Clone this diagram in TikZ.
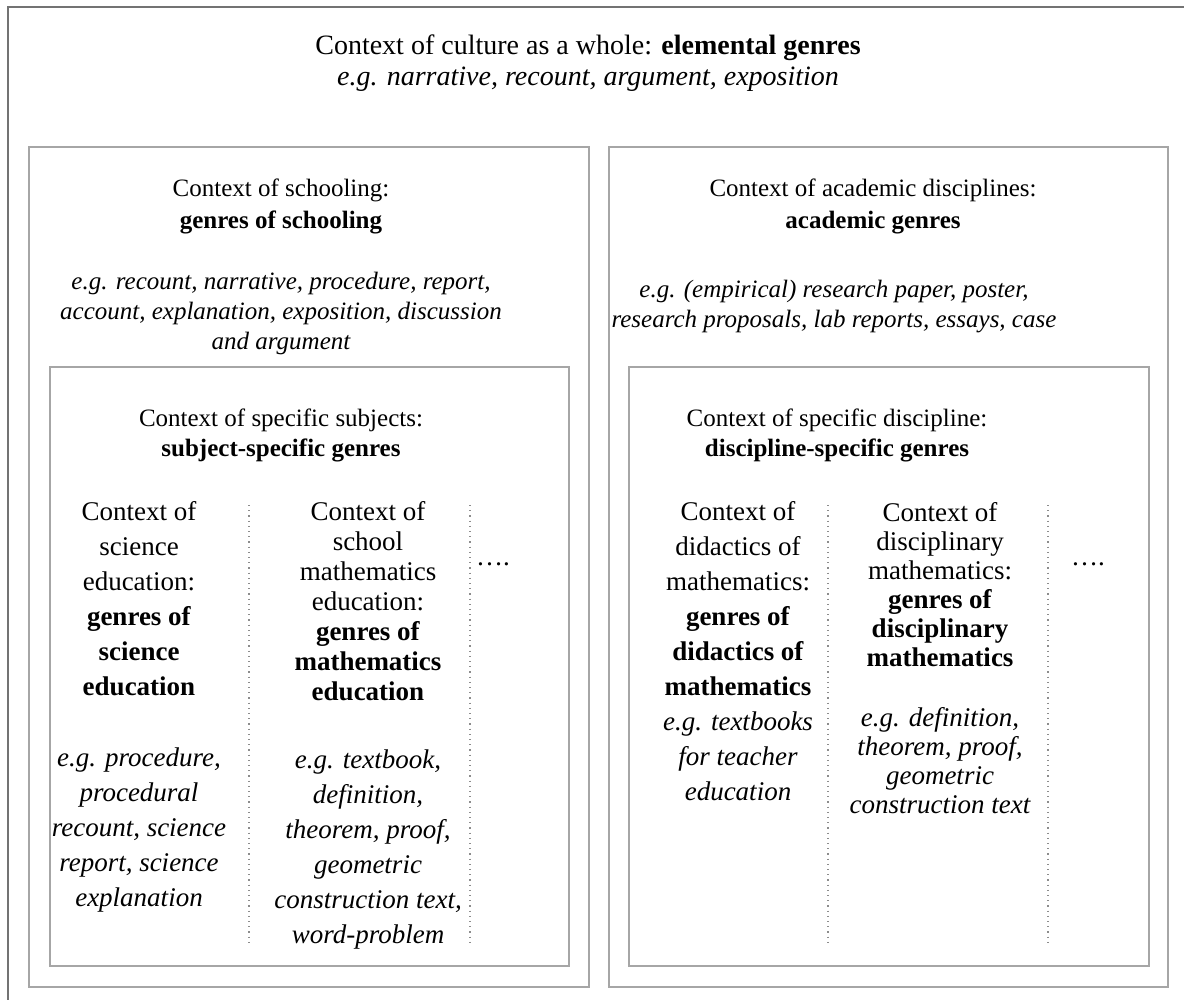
\documentclass[tikz,border=0pt]{standalone}
\usepackage{fontspec}
\setmainfont{Liberation Serif}

\begin{document}
\begin{tikzpicture}[x=0.5pt,y=-0.5pt,
    frame/.style={draw=black!55,line width=0.8pt},
    box/.style={draw=black!35,line width=0.6pt},
    sep/.style={draw=black!45,line width=0.6pt,dotted},
    txt/.style={align=center,anchor=north,inner sep=0pt,font=\fontsize{12.5}{16}\selectfont},
    coltxt/.style={align=center,anchor=north,inner sep=0pt,font=\fontsize{13.5}{17.5}\selectfont}]

    \useasboundingbox (0,0) rectangle (1184,1000);

    % Frames %
    \draw[frame] (8,1000) -- (8,7) -- (1184,7);
    \draw[box] (29,147) rectangle (589,987);   % schooling
    \draw[box] (609,147) rectangle (1168,987); % academic
    \draw[box] (50,367) rectangle (569,966);   % subjects
    \draw[box] (629,367) rectangle (1149,966); % discipline

    % Column separators %
    \foreach \x in {249,470,828,1048}
        \draw[sep] (\x,505) -- (\x,945);

    \begin{scope}[every node/.style={txt}]
        \node[font=\fontsize{14}{15.5}\selectfont] (culture) at (588,34) {Context of culture as a whole: \textbf{elemental genres}\\
            \itshape e.g. narrative, recount, argument, exposition};
        \node (schooling) at (281,178) {Context of schooling:\\ \textbf{genres of schooling}};
        \node[font=\fontsize{12.5}{15}\selectfont\itshape] (schoolingeg) at (281,272)
            {e.g. recount, narrative, procedure, report,\\ account, explanation, exposition, discussion\\ and argument};
        \node (academic) at (873,178) {Context of academic disciplines:\\ \textbf{academic genres}};
        \node[font=\fontsize{12.5}{15}\selectfont\itshape] (academiceg) at (834,280)
            {e.g. (empirical) research paper, poster,\\ research proposals, lab reports, essays, case};
        \node[font=\fontsize{12.5}{15}\selectfont] (subjects) at (281,408) {Context of specific subjects:\\ \textbf{subject-specific genres}};
        \node[font=\fontsize{12.5}{15}\selectfont] (discipline) at (837,408) {Context of specific discipline:\\ \textbf{discipline-specific genres}};
    \end{scope}

    \begin{scope}[every node/.style={coltxt}]
        % Subjects %
        \node (science) at (139,501.5) {Context of\\ science\\ education:\\ \textbf{genres of}\\ \textbf{science}\\ \textbf{education}};
        \node[font=\fontsize{13.5}{17.5}\selectfont\itshape] (scienceeg) at (139,747.5)
            {e.g. procedure,\\ procedural\\ recount, science\\ report, science\\ explanation};
        \node[font=\fontsize{13.5}{15}\selectfont] (schoolmath) at (368,501.5)
            {Context of\\ school\\ mathematics\\ education:\\ \textbf{genres of}\\ \textbf{mathematics}\\ \textbf{education}};
        \node[font=\fontsize{13.5}{17.5}\selectfont\itshape] (schoolmatheg) at (368,749.5)
            {e.g. textbook,\\ definition,\\ theorem, proof,\\ geometric\\ construction text,\\ word-problem};
        \node[anchor=base] (moresubj) at (493,565) {\dots.};

        % Discipline %
        \node (didactics) at (738,501.5) {Context of\\ didactics of\\ mathematics:\\ \textbf{genres of}\\ \textbf{didactics of}\\ \textbf{mathematics}\\
            \itshape e.g. textbooks\\ \itshape for teacher\\ \itshape education};
        \node[font=\fontsize{13.5}{14.5}\selectfont] (disciplinary) at (940,502.5)
            {Context of\\ disciplinary\\ mathematics:\\ \textbf{genres of}\\ \textbf{disciplinary}\\ \textbf{mathematics}};
        \node[font=\fontsize{13.5}{14.5}\selectfont\itshape] (disciplinaryeg) at (940,707.5)
            {e.g. definition,\\ theorem, proof,\\ geometric\\ construction text};
        \node[anchor=base] (morediscipl) at (1088,565) {\dots.};
    \end{scope}

\end{tikzpicture}
\end{document}
